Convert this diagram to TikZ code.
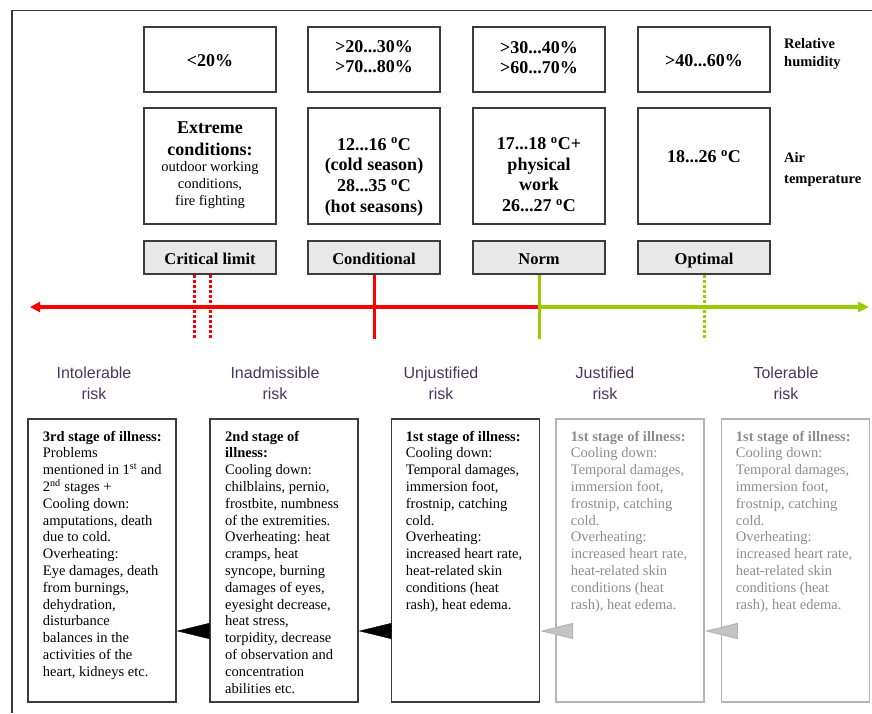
\documentclass[tikz,border=0pt]{standalone}
\usepackage{fontspec}
\setmainfont{Liberation Serif}
\newfontfamily\riskfont{Liberation Sans}
\usetikzlibrary{arrows.meta,calc}

\definecolor{framegray}{HTML}{3C3C3C}
\definecolor{tagfill}{HTML}{E8E8E8}
\definecolor{riskred}{HTML}{FF0000}
\definecolor{riskgreen}{HTML}{99CC00}
\definecolor{risktext}{HTML}{4A3560}
\definecolor{fadetext}{HTML}{8C8C8C}
\definecolor{fadeedge}{HTML}{B4B4B4}
\definecolor{fadefill}{HTML}{C4C4C4}

\begin{document}
\begin{tikzpicture}[x=1pt,y=-1pt,
  cell/.style={draw=framegray, line width=1.3pt, minimum width=132pt, inner sep=0pt},
  tag/.style={cell, fill=tagfill, minimum height=33pt,
    font=\bfseries\fontsize{16.5}{20}\selectfont, text height=13pt, text depth=0pt},
  bigtxt/.style={inner sep=0pt, anchor=north, align=center},
  sidetxt/.style={inner sep=0pt, anchor=north west, align=left},
  risk/.style={inner sep=0pt, anchor=north, align=center, text=risktext,
    font=\riskfont\fontsize{16}{20.7}\selectfont},
  stage/.style={draw=framegray, line width=1.3pt, minimum width=148pt,
    minimum height=283pt, inner sep=0pt},
  fadestage/.style={stage, draw=fadeedge, line width=1.5pt},
  stagetxt/.style={inner sep=0pt, anchor=north west, align=left,
    font=\fontsize{14.5}{16.8}\selectfont},
  axis/.style={line width=3.2pt},
  tickline/.style={line width=3pt},
  dotline/.style={line width=3pt, dash pattern=on 3pt off 2pt},
  worse/.style={line width=0.4pt, black, -{Triangle[length=33pt,width=16pt]}},
  milder/.style={line width=1pt, fadeedge, -{Triangle[length=33pt,width=16pt,fill=fadefill]}}
]
\useasboundingbox (0,0) rectangle (872,713);

% outer frame (open at the right and bottom)
\draw[framegray, line width=1.3pt] (12,713) -- (12,10.5) -- (872,10.5);

% relative humidity row
\node[cell, minimum height=65pt] (h1) at (210,59.5) {};
\node[cell, minimum height=65pt] (h2) at (374,59.5) {};
\node[cell, minimum height=65pt] (h3) at (539,59.5) {};
\node[cell, minimum height=65pt] (h4) at (704,59.5) {};
\node[bigtxt, font=\bfseries\fontsize{18}{20}\selectfont] (h1t) at (210,52.5) {\strut<20\%};
\node[bigtxt, font=\bfseries\fontsize{18}{20}\selectfont] (h2t) at (374,38.7) {\strut>20...30\%\\>70...80\%};
\node[bigtxt, font=\bfseries\fontsize{18}{20}\selectfont] (h3t) at (539,39.5) {\strut>30...40\%\\>60...70\%};
\node[bigtxt, font=\bfseries\fontsize{18}{20}\selectfont] (h4t) at (704,52) {\strut>40...60\%};

% air temperature row
\node[cell, minimum height=116pt] (t1) at (210,166) {};
\node[cell, minimum height=116pt] (t2) at (374,166) {};
\node[cell, minimum height=116pt] (t3) at (539,166) {};
\node[cell, minimum height=116pt] (t4) at (704,166) {};
\node[bigtxt, font=\bfseries\fontsize{18}{22}\selectfont] (t1a) at (210,117.6) {\strut Extreme\\conditions:};
\node[bigtxt, font=\fontsize{14.5}{17}\selectfont] (t1b) at (210,159.1) {\strut outdoor working\\conditions,\\fire fighting};
\node[bigtxt, font=\bfseries\fontsize{18}{20.7}\selectfont] (t2t) at (374,135.5)
  {\strut 12...16 \textsuperscript{o}C\\(cold season)\\28...35 \textsuperscript{o}C\\(hot seasons)};
\node[bigtxt, font=\bfseries\fontsize{18}{20.7}\selectfont] (t3t) at (539,134.8)
  {\strut 17...18 \textsuperscript{o}C+\\physical\\work\\26...27 \textsuperscript{o}C};
\node[bigtxt, font=\bfseries\fontsize{18}{20.7}\selectfont] (t4t) at (704,147.8)
  {\strut 18...26 \textsuperscript{o}C};

% row captions
\node[sidetxt, font=\bfseries\fontsize{14.5}{18.2}\selectfont] (rh) at (784,35.6) {\strut Relative\\humidity};
\node[sidetxt, font=\bfseries\fontsize{14.5}{21}\selectfont] (at) at (784,147.6) {\strut Air\\temperature};

% level tags
\node[tag] (crit) at (210,257.5) {Critical limit};
\node[tag] (cond) at (374,257.5) {Conditional};
\node[tag] (norm) at (539,257.5) {Norm};
\node[tag] (opt)  at (704,257.5) {Optimal};

% risk axis
\coordinate (axL) at (30,307);
\coordinate (axR) at (869,307);
\coordinate (tickend) at (0,339);
\coordinate (axM) at (norm.south |- axL);
\draw[axis, riskred, -{Triangle[length=10pt,width=10pt]}] (axM) -- (axL);
\draw[axis, riskgreen, -{Triangle[length=11pt,width=10pt]}] (axM) -- (axR);

% level marks on the axis
\draw[dotline, riskred] ([xshift=-16pt]crit.south) -- ([xshift=-16pt]crit.south |- tickend);
\draw[dotline, riskred] (crit.south) -- (crit.south |- tickend);
\draw[tickline, riskred] (cond.south) -- (cond.south |- tickend);
\draw[tickline, riskgreen] (norm.south) -- (norm.south |- tickend);
\draw[dotline, riskgreen] (opt.south) -- (opt.south |- tickend);

% risk zones
\node[risk] (r1) at (94,363.8)  {\strut Intolerable\\risk};
\node[risk] (r2) at (275,363.8) {\strut Inadmissible\\risk};
\node[risk] (r3) at (441,363.8) {\strut Unjustified\\risk};
\node[risk] (r4) at (605,363.8) {\strut Justified\\risk};
\node[risk] (r5) at (786,363.8) {\strut Tolerable\\risk};

% stages of illness
\node[stage]     (bA) at (102,560.5) {};
\node[stage]     (bB) at (284,560.5) {};
\node[stage]     (bC) at (465.5,560.5) {};
\node[fadestage] (bD) at (630,560.5) {};
\node[fadestage] (bE) at (795.5,560.5) {};

\node[stagetxt] (tA) at (42.7,429.2) {\strut\textbf{3rd stage of illness:}\\Problems\\mentioned in 1\textsuperscript{st} and\\2\textsuperscript{nd} stages +\\Cooling down:\\amputations, death\\due to cold.\\Overheating:\\Eye damages, death\\from burnings,\\dehydration,\\disturbance\\balances in the\\activities of the\\heart, kidneys etc.};
\node[stagetxt] (tB) at (225,429.2) {\strut\textbf{2nd stage of}\\\textbf{illness:}\\Cooling down:\\chilblains, pernio,\\frostbite, numbness\\of the extremities.\\Overheating: heat\\cramps, heat\\syncope, burning\\damages of eyes,\\eyesight decrease,\\heat stress,\\torpidity, decrease\\of observation and\\concentration\\abilities etc.};
\node[stagetxt] (tC) at (405.7,429.2) {\strut\textbf{1st stage of illness:}\\Cooling down:\\Temporal damages,\\immersion foot,\\frostnip, catching\\cold.\\Overheating:\\increased heart rate,\\heat-related skin\\conditions (heat\\rash), heat edema.};
\node[stagetxt, text=fadetext] (tD) at (570.7,429.2) {\strut\textbf{1st stage of illness:}\\Cooling down:\\Temporal damages,\\immersion foot,\\frostnip, catching\\cold.\\Overheating:\\increased heart rate,\\heat-related skin\\conditions (heat\\rash), heat edema.};
\node[stagetxt, text=fadetext] (tE) at (735.7,429.2) {\strut\textbf{1st stage of illness:}\\Cooling down:\\Temporal damages,\\immersion foot,\\frostnip, catching\\cold.\\Overheating:\\increased heart rate,\\heat-related skin\\conditions (heat\\rash), heat edema.};

% progression pointers between stages
\coordinate (tri) at (0,631);
\draw[worse]  (bB.west |- tri) -- (bA.east |- tri);
\draw[worse]  (bC.west |- tri) -- (bB.east |- tri);
\draw[milder] ([xshift=17pt]bD.west |- tri) -- (bC.east |- tri);
\draw[milder] ([xshift=16pt]bE.west |- tri) -- (bD.east |- tri);
\end{tikzpicture}
\end{document}
